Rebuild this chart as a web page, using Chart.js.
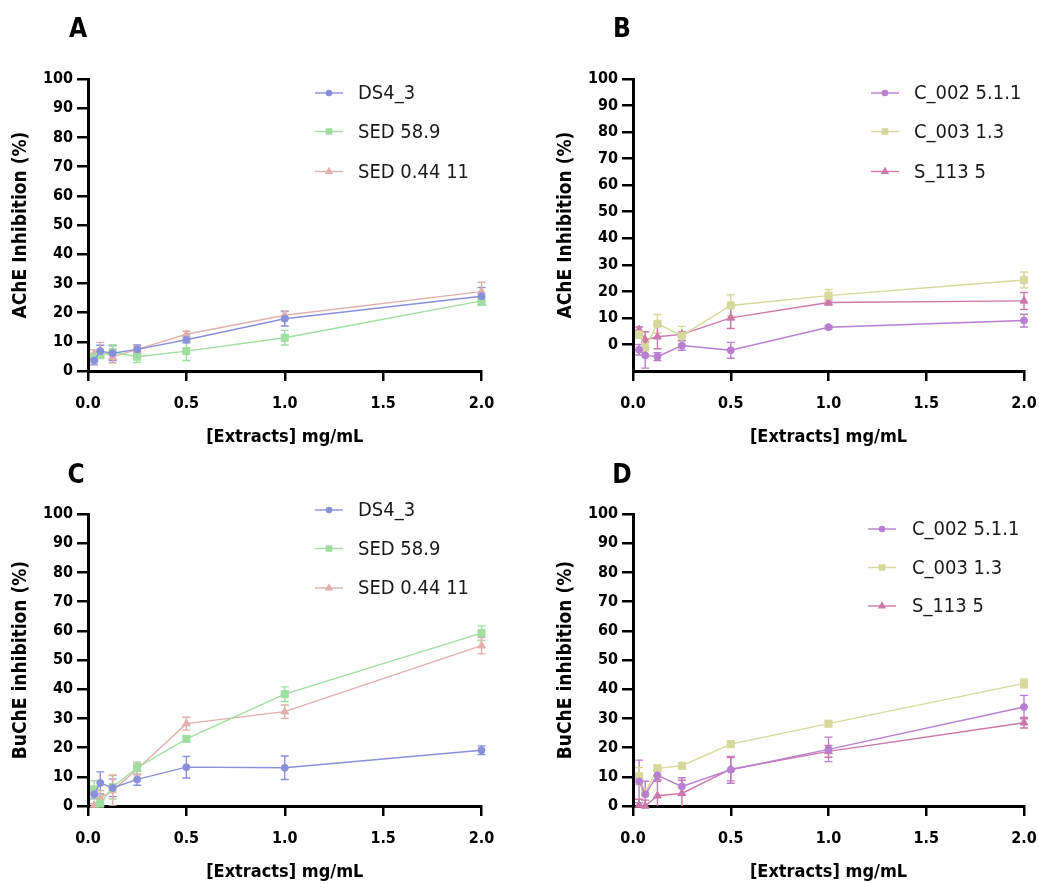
<!DOCTYPE html>
<html><head><meta charset="utf-8">
<script src="https://cdn.jsdelivr.net/npm/chart.js@4.4.1/dist/chart.umd.min.js"></script>
<style>
html,body{margin:0;padding:0;background:#fff;overflow:hidden;width:1039px;height:884px}
canvas{position:absolute}
</style></head><body>
<canvas id="cA" style="left:0;top:0" width="519" height="449"></canvas>
<canvas id="cB" style="left:545px;top:0" width="494" height="449"></canvas>
<canvas id="cC" style="left:0;top:435px" width="519" height="449"></canvas>
<canvas id="cD" style="left:545px;top:435px" width="494" height="449"></canvas>
<script>
// ---- data ----
const concentrations = [0.03125, 0.0625, 0.125, 0.25, 0.5, 1, 2];
const xTicks = [0, 0.5, 1, 1.5, 2];
const yTicks = [0, 10, 20, 30, 40, 50, 60, 70, 80, 90, 100];

const namesAC = ['DS4_3', 'SED 58.9', 'SED 0.44 11'];
const namesBD = ['C_002 5.1.1', 'C_003 1.3', 'S_113 5'];

// Panel A: AChE
const A_DS4_3 = [3.6, 6.8, 6.1, 7.4, 10.7, 17.9, 25.6];
const A_DS4_3_err = [1.5, 2, 2.5, 1.5, 1, 2.5, 3];
const A_SED589 = [4.6, 5.4, 6.5, 4.9, 6.8, 11.4, 24.0];
const A_SED589_err = [1.5, 1, 2.5, 2, 3.2, 2.5, 1.5];
const A_SED044 = [5.8, 7.3, 4.8, 7.4, 12.6, 19.1, 27.2];
const A_SED044_err = [1.5, 2.5, 2, 1, 1, 1.5, 3.2];

// Panel B: AChE
const B_C002 = [-2.0, -4.1, -4.6, -0.4, -2.2, 6.5, 9.0];
const B_C002_err = [2, 4.8, 1.5, 1.8, 3, 0.6, 2.4];
const B_C003 = [3.8, -1.2, 7.8, 3.3, 14.7, 18.4, 24.3];
const B_C003_err = [1.5, 3, 3.5, 3.5, 4, 2.3, 3];
const B_S113 = [5.6, 1.8, 2.9, 3.8, 10.0, 15.8, 16.4];
const B_S113_err = [1, 3, 4.5, 1, 4, 1, 3.2];

// Panel C: BuChE
const C_DS4_3 = [4.0, 7.9, 6.2, 9.1, 13.3, 13.1, 19.1];
const C_DS4_3_err = [1.5, 3.8, 3, 2, 3.7, 4, 1.5];
const C_SED589 = [5.7, 0.8, 6.4, 13.1, 23.0, 38.3, 59.2];
const C_SED589_err = [3, 1.5, 4, 2, 1, 2.5, 2.5];
const C_SED044 = [0.3, 2.8, 5.3, 12.6, 28.2, 32.3, 54.9];
const C_SED044_err = [0.5, 2.5, 5.3, 2, 2.2, 2.3, 2.8];

// Panel D: BuChE
const D_C002 = [8.4, 4.0, 10.5, 6.7, 12.4, 19.4, 33.9];
const D_C002_err = [7.3, 4.5, 1.5, 3, 4.6, 4.2, 4];
const D_C003 = [10.2, 4.6, 12.9, 13.8, 21.2, 28.2, 42.0];
const D_C003_err = [3, 1, 1, 1, 1, 1, 1.5];
const D_S113 = [0.3, 0, 3.5, 4.3, 12.6, 18.7, 28.5];
const D_S113_err = [2, 2, 5, 4.5, 4, 2, 1.8];

// ---- styles ----
const colorsAC = ['#8a8fdb', '#9fdf9f', '#e0b0ae'];
const colorsBD = ['#b97fd0', '#d7d99a', '#cc78a8'];
const markers = ['circle', 'rect', 'triangle'];
const markerRadius = [3.5, 5, 4.5];
const FONT = "'DejaVu Sans Condensed', 'DejaVu Sans', sans-serif";

Chart.defaults.font.family = FONT;
Chart.defaults.color = '#000';
Chart.defaults.animation = false;

const errorBars = {
  id: 'errorBars',
  beforeDatasetsDraw(chart) {
    const ctx = chart.ctx, xs = chart.scales.x, ys = chart.scales.y, a = chart.chartArea;
    ctx.save();
    ctx.beginPath(); ctx.rect(a.left, a.top - 10, a.right - a.left + 10, a.bottom - a.top + 10); ctx.clip();
    chart.data.datasets.forEach(ds => {
      ctx.strokeStyle = ds.borderColor; ctx.lineWidth = 1.4;
      ds.data.forEach((p, j) => {
        const e = ds.errors[j];
        const x = xs.getPixelForValue(p.x);
        const y1 = ys.getPixelForValue(p.y - e), y2 = ys.getPixelForValue(p.y + e);
        ctx.beginPath();
        ctx.moveTo(x, y1); ctx.lineTo(x, y2);
        ctx.moveTo(x - 4, y1); ctx.lineTo(x + 4, y1);
        ctx.moveTo(x - 4, y2); ctx.lineTo(x + 4, y2);
        ctx.stroke();
      });
    });
    ctx.restore();
  }
};

const decor = {
  id: 'decor',
  afterDraw(chart, args, o) {
    const ctx = chart.ctx;
    ctx.save();
    ctx.fillStyle = '#000';
    ctx.font = "bold 26px " + FONT;
    ctx.textAlign = 'center'; ctx.textBaseline = 'middle';
    ctx.fillText(o.letter, o.letterX, o.letterY);
    ctx.font = "20px " + FONT;
    ctx.textAlign = 'left';
    chart.data.datasets.forEach((ds, i) => {
      const y = o.rows[i];
      ctx.strokeStyle = ds.borderColor; ctx.lineWidth = 1.4;
      ctx.beginPath(); ctx.moveTo(o.lineX0, y); ctx.lineTo(o.lineX1, y); ctx.stroke();
      ctx.fillStyle = ds.borderColor;
      Chart.helpers.drawPoint(ctx, {pointStyle: ds.pointStyle, radius: ds.pointRadius * 0.75, borderWidth: 1, rotation: 0}, (o.lineX0 + o.lineX1) / 2, y);
      ctx.fillStyle = '#1a1a1a';
      ctx.fillText(ds.label, o.textX, y + 1);
    });
    ctx.restore();
  }
};

function makeChart(id, names, vals, errs, colors, yMin, yTitle, deco) {
  const datasets = names.map((n, i) => ({
    label: n,
    data: concentrations.map((x, j) => ({x: x, y: vals[i][j]})),
    errors: errs[i],
    borderColor: colors[i],
    backgroundColor: colors[i],
    pointBackgroundColor: colors[i],
    pointBorderColor: colors[i],
    pointStyle: markers[i],
    pointRadius: markerRadius[i],
    pointBorderWidth: 1,
    borderWidth: 1.4,
    tension: 0,
    clip: false
  }));
  const canvas = document.getElementById(id);
  const rightPad = canvas.width - deco.chartRight;
  return new Chart(canvas, {
    type: 'line',
    data: {datasets},
    plugins: [errorBars, decor],
    options: {
      responsive: false,
      animation: false,
      layout: {padding: {top: 79, right: rightPad, left: 0, bottom: 0}},
      plugins: {legend: {display: false}, tooltip: {enabled: false}, decor: deco},
      scales: {
        x: {
          type: 'linear', min: 0, max: 2,
          afterBuildTicks: s => { s.ticks = xTicks.map(v => ({value: v})); },
          afterFit: s => { s.height = 78; s.paddingLeft = 0; s.paddingRight = 0; },
          ticks: {callback: v => v.toFixed(1), font: {size: 16, weight: 'bold'}, padding: 13, color: '#000', maxRotation: 0},
          grid: {drawOnChartArea: false, drawTicks: true, tickLength: 10, color: '#000', lineWidth: 2.5},
          border: {display: true, color: '#000', width: 3},
          title: {display: true, text: '[Extracts] mg/mL', font: {size: 18, weight: 'bold'}, color: '#000', padding: {top: 0, bottom: 1}}
        },
        y: {
          type: 'linear', min: yMin, max: 100,
          afterBuildTicks: s => { s.ticks = (yMin < 0 ? [yMin] : []).concat(yTicks).map(v => ({value: v})); },
          afterFit: s => { s.width = 88; s.paddingTop = 0; s.paddingBottom = 0; },
          ticks: {callback: v => (v < 0 ? '' : String(v)), font: {size: 16, weight: 'bold'}, padding: 4, color: '#000'},
          grid: {drawOnChartArea: false, drawTicks: true, tickLength: 11, lineWidth: 2.5,
                 color: c => (c.tick && c.tick.value < 0 ? 'rgba(0,0,0,0)' : '#000')},
          border: {display: true, color: '#000', width: 3},
          title: {display: true, text: yTitle, font: {size: 19, weight: 'bold'}, color: '#000', padding: {top: 10, bottom: 0}}
        }
      }
    }
  });
}

makeChart('cA', namesAC, [A_DS4_3, A_SED589, A_SED044], [A_DS4_3_err, A_SED589_err, A_SED044_err], colorsAC, 0, 'AChE Inhibition (%)',
  {letter: 'A', letterX: 78, letterY: 30, rows: [93, 131.5, 171.5], lineX0: 315, lineX1: 343, textX: 358, chartRight: 481.5});
makeChart('cB', namesBD, [B_C002, B_C003, B_S113], [B_C002_err, B_C003_err, B_S113_err], colorsBD, -10, 'AChE Inhibition (%)',
  {letter: 'B', letterX: 77, letterY: 30, rows: [93, 131.5, 171.5], lineX0: 326, lineX1: 354, textX: 369, chartRight: 479});
makeChart('cC', namesAC, [C_DS4_3, C_SED589, C_SED044], [C_DS4_3_err, C_SED589_err, C_SED044_err], colorsAC, 0, 'BuChE inhibition (%)',
  {letter: 'C', letterX: 76, letterY: 41, rows: [75, 113.5, 153], lineX0: 315, lineX1: 343, textX: 358, chartRight: 481.5});
makeChart('cD', namesBD, [D_C002, D_C003, D_S113], [D_C002_err, D_C003_err, D_S113_err], colorsBD, 0, 'BuChE inhibition (%)',
  {letter: 'D', letterX: 77, letterY: 41, rows: [94, 132.5, 171], lineX0: 323, lineX1: 351, textX: 367, chartRight: 479});
</script>
</body></html>
